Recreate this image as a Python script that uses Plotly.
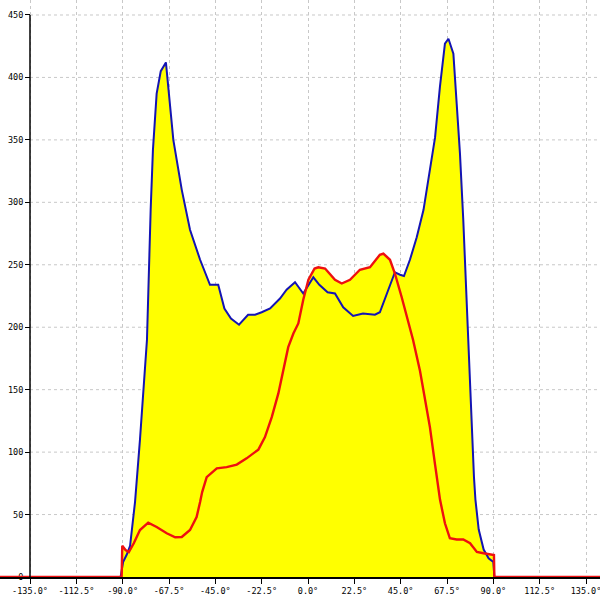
import plotly.graph_objects as go

# Blue series (angle in degrees, value)
blue_x = [-150, -91, -89.8, -88, -86.4, -84.0, -81.6, -79.2, -78.2, -76.4, -75.3, -73.5, -71.5, -69.0,
          -67.5, -65.4, -61.3, -57.3, -52.4, -47.6, -43.6, -40.6, -37.4, -33.5, -29.1, -25.7, -22.5,
          -18.4, -13.6, -10.4, -6.3, -2.3, 2.6, 5.5, 9.5, 13.1, 17.1, 21.9, 26.7, 32.5, 34.9, 38.2,
          42.2, 44.7, 46.6, 49.5, 52.8, 56.1, 59.2, 61.7, 64.1, 66.5, 68.2, 70.6, 72.2, 73.8, 75.4,
          77.1, 77.8, 79.1, 80.6, 81.3, 82.9, 85.3, 87.7, 90.0, 90.5, 145]
blue_y = [0, 0, 12, 18, 25, 60, 110, 165, 190, 294, 342, 387, 405, 412,
          388, 350, 310, 278, 254, 234, 234, 215, 207, 202, 210, 210, 212,
          215, 223, 230, 236, 227, 240, 234, 228, 227, 216, 209, 211, 210, 212, 227,
          244, 242, 241, 254, 272, 294, 326, 352, 393, 427, 431, 419, 379, 339, 286,
          219, 190, 130, 80, 62, 38, 22, 15, 12, 0, 0]

# Red series
red_x = [-150, -90.5, -90.2, -88.6, -87.0, -84.6, -81.6, -77.6, -73.5, -68.6, -64.5, -61.3, -57.3,
         -54.1, -52.4, -51.4, -49.2, -44.3, -39.5, -34.6, -29.8, -24.1, -20.9, -17.6, -14.4, -12.0,
         -9.6, -7.1, -4.7, -2.3, 0.2, 3.2, 5.0, 8.3, 13.1, 16.4, 20.4, 25.2, 30.1, 34.9, 36.6, 39.8,
         42.2, 45.5, 48.6, 51.0, 54.4, 59.2, 61.7, 64.1, 66.5, 68.9, 72.2, 75.4, 78.7, 82.0, 85.2,
         89.2, 90.3, 90.5, 145]
red_y = [0, 0, 25, 21.6, 20, 27, 37.6, 43.5, 40, 35, 31.8, 32, 37.6,
         48, 60, 68, 80, 87, 88, 90, 95, 102, 112, 128, 147, 166,
         184, 195, 203, 222, 238, 247, 248, 247, 238, 235, 238, 246, 248, 258, 259, 254,
         243, 224, 206, 190, 165, 120, 90, 62, 43, 31, 30, 30, 27, 20, 19,
         17.6, 17.6, 0, 0]

x_ticks = [-135, -112.5, -90, -67.5, -45, -22.5, 0, 22.5, 45, 67.5, 90, 112.5, 135]
x_labels = ["-135.0°", "-112.5°", "-90.0°", "-67.5°", "-45.0°", "-22.5°", "0.0°",
            "22.5°", "45.0°", "67.5°", "90.0°", "112.5°", "135.0°"]
y_ticks = [0, 50, 100, 150, 200, 250, 300, 350, 400, 450]

YELLOW = "#FFFF00"
BLUE = "#1414B4"
RED = "#EE1010"

fig = go.Figure()
fig.add_trace(go.Scatter(x=red_x, y=red_y, mode="lines", line=dict(width=0),
                         fill="tozeroy", fillcolor=YELLOW, hoverinfo="skip", showlegend=False))
fig.add_trace(go.Scatter(x=blue_x, y=blue_y, mode="lines", line=dict(width=0),
                         fill="tozeroy", fillcolor=YELLOW, hoverinfo="skip", showlegend=False))
fig.add_trace(go.Scatter(x=blue_x, y=blue_y, mode="lines",
                         line=dict(color=BLUE, width=2),
                         showlegend=False, cliponaxis=False))
fig.add_trace(go.Scatter(x=red_x, y=red_y, mode="lines",
                         line=dict(color=RED, width=2.4),
                         showlegend=False, cliponaxis=False))

# horizontal grid lines starting at the y axis
shapes = []
for v in y_ticks[1:]:
    shapes.append(dict(type="line", xref="x", yref="y", x0=-135, x1=142, y0=v, y1=v,
                       line=dict(color="#C8C8C8", width=1, dash="3px,3px"), layer="below"))
# y axis line
shapes.append(dict(type="line", xref="x", yref="y", x0=-135, x1=-135, y0=0, y1=450,
                   line=dict(color="black", width=1.5), layer="above"))

font = dict(family="DejaVu Sans Mono", size=8.5, color="black")

fig.update_layout(
    width=600, height=600,
    margin=dict(l=0, r=0, t=0, b=23, autoexpand=False),
    paper_bgcolor="white", plot_bgcolor="white",
    shapes=shapes,
    xaxis=dict(range=[-149.57, 141.8], tickvals=x_ticks, ticktext=x_labels,
               showgrid=True, gridcolor="#C8C8C8", griddash="3px,3px", gridwidth=1,
               zeroline=False, showline=True, linecolor="black", linewidth=1.5,
               ticks="outside", ticklen=5, tickcolor="black", tickwidth=1,
               tickfont=font, layer="below traces", automargin=False,
               ticklabeloverflow="allow"),
    yaxis=dict(range=[0, 462], tickvals=y_ticks, ticktext=[str(v) for v in y_ticks],
               anchor="free", position=0.05, showgrid=False, zeroline=False,
               showline=False, ticks="outside", ticklen=5, tickcolor="black",
               tickfont=font, layer="below traces", automargin=False,
               ticklabeloverflow="allow"),
)

fig.write_html("out.html", config={"displayModeBar": False},
               post_script="document.body.style.margin='0';")
